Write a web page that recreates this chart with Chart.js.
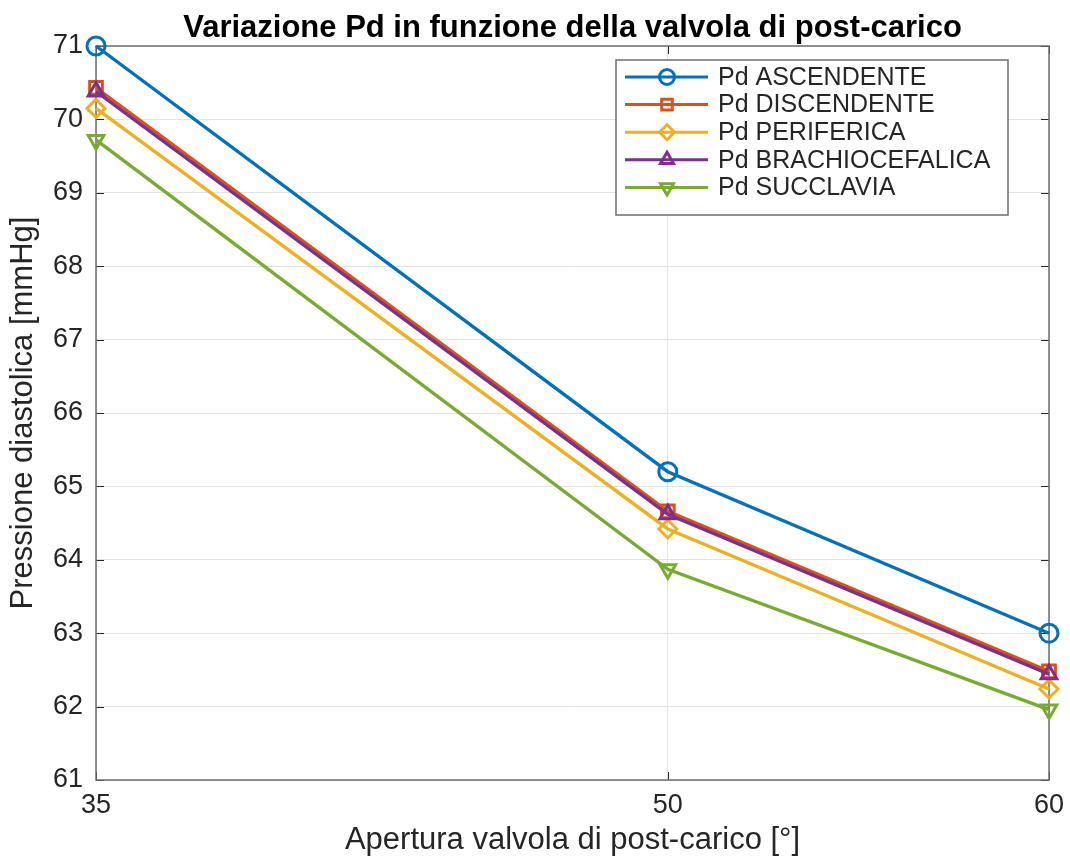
<!DOCTYPE html>
<html><head><meta charset="utf-8">
<script src="https://cdn.jsdelivr.net/npm/chart.js@4.4.1/dist/chart.umd.min.js"></script>
<style>html,body{margin:0;padding:0;background:#fff}</style>
</head><body>
<canvas id="c" width="1070" height="861"></canvas>
<script>
// Apertura valvola (°) e pressione diastolica (mmHg) per ciascun distretto
const apertura = [35, 50, 60];
const xTicks = [35, 50, 60];
const yTicks = [61, 62, 63, 64, 65, 66, 67, 68, 69, 70, 71];
const pdAscendente = [71.0, 65.2, 63.0];
const pdDiscendente = [70.43, 64.66, 62.48];
const pdPeriferica = [70.15, 64.42, 62.24];
const pdBrachiocefalica = [70.38, 64.62, 62.44];
const pdSucclavia = [69.72, 63.87, 61.96];

const seriesNames = ['Pd ASCENDENTE', 'Pd DISCENDENTE', 'Pd PERIFERICA', 'Pd BRACHIOCEFALICA', 'Pd SUCCLAVIA'];
const seriesValues = [pdAscendente, pdDiscendente, pdPeriferica, pdBrachiocefalica, pdSucclavia];
const seriesColors = ['#0072BD', '#D95319', '#EDB120', '#7E2F8E', '#77AC30'];
const seriesMarkers = ['circle', 'rect', 'rectRot', 'triangle', 'triangle'];
const seriesRotation = [0, 0, 0, 0, 180];

const chartTitle = 'Variazione Pd in funzione della valvola di post-carico';
const FONT = '"Liberation Sans", Arial, Helvetica, sans-serif';
const AXIS = '#262626';

const datasets = seriesNames.map((name, i) => ({
  label: name,
  data: apertura.map((x, j) => ({ x: x, y: seriesValues[i][j] })),
  borderColor: seriesColors[i],
  backgroundColor: 'rgba(0,0,0,0)',
  borderWidth: 3.4,
  pointStyle: seriesMarkers[i],
  pointRotation: seriesRotation[i],
  pointRadius: 9,
  pointBorderWidth: 3,
  pointBackgroundColor: 'rgba(0,0,0,0)',
  pointBorderColor: seriesColors[i],
  tension: 0,
  clip: false,
  order: seriesNames.length - 1 - i
}));

// Riquadro degli assi, tacche interne, titolo e legenda dentro l'area del grafico
const axesDecor = {
  id: 'axesDecor',
  beforeDatasetsDraw(chart) {
    const ctx = chart.ctx;
    const a = chart.chartArea;
    const xs = chart.scales.x, ys = chart.scales.y;
    ctx.save();
    ctx.strokeStyle = AXIS;
    ctx.lineWidth = 1;
    ctx.beginPath();
    ys.ticks.forEach(t => {
      const py = Math.round(ys.getPixelForValue(t.value)) + 0.5;
      ctx.moveTo(a.left, py); ctx.lineTo(a.left + 8, py);
      ctx.moveTo(a.right, py); ctx.lineTo(a.right - 8, py);
    });
    xs.ticks.forEach(t => {
      const px = Math.round(xs.getPixelForValue(t.value)) + 0.5;
      ctx.moveTo(px, a.bottom); ctx.lineTo(px, a.bottom - 8);
      ctx.moveTo(px, a.top); ctx.lineTo(px, a.top + 8);
    });
    ctx.stroke();
    ctx.strokeStyle = '#6e6e6e';
    ctx.lineWidth = 1.5;
    ctx.strokeRect(a.left, a.top, a.right - a.left, a.bottom - a.top);

    // titolo centrato sull'area degli assi
    ctx.fillStyle = '#000000';
    ctx.font = 'bold 31px ' + FONT;
    ctx.textAlign = 'center';
    ctx.textBaseline = 'alphabetic';
    ctx.fillText(chartTitle, (a.left + a.right) / 2, 37);
    ctx.restore();
  },
  afterDatasetsDraw(chart) {
    const ctx = chart.ctx;
    ctx.save();
    const bx = 616, by = 60, bw = 392, bh = 155;
    ctx.fillStyle = '#ffffff';
    ctx.fillRect(bx, by, bw, bh);
    ctx.strokeStyle = '#6e6e6e';
    ctx.lineWidth = 1.5;
    ctx.strokeRect(bx, by, bw, bh);
    ctx.font = '25px ' + FONT;
    ctx.textBaseline = 'middle';
    ctx.textAlign = 'left';
    chart.data.datasets.forEach((ds, i) => {
      const cy = by + 17 + i * 27.6;
      ctx.strokeStyle = ds.borderColor;
      ctx.lineWidth = 3;
      ctx.beginPath();
      ctx.moveTo(bx + 9, cy); ctx.lineTo(bx + 92, cy);
      ctx.stroke();
      ctx.fillStyle = 'rgba(0,0,0,0)';
      Chart.helpers.drawPoint(ctx, {
        pointStyle: ds.pointStyle, rotation: ds.pointRotation, radius: 7.5, borderWidth: 3
      }, bx + 51, cy);
      ctx.fillStyle = '#262626';
      ctx.fillText(ds.label, bx + 102, cy + 1);
    });
    ctx.restore();
  }
};

new Chart(document.getElementById('c'), {
  type: 'line',
  data: { datasets: datasets },
  plugins: [axesDecor],
  options: {
    responsive: false,
    animation: false,
    layout: { padding: { left: 0, right: 21, top: 46, bottom: 0 } },
    plugins: {
      legend: { display: false },
      tooltip: { enabled: false },
      title: { display: false }
    },
    scales: {
      x: {
        type: 'linear',
        min: 35, max: 60,
        afterBuildTicks: s => { s.ticks = xTicks.map(v => ({ value: v })); },
        afterFit: s => { s.height = 81; s.paddingRight = 0; s.paddingLeft = 0; },
        grid: { color: '#e3e3e3', lineWidth: 1, drawTicks: false },
        border: { display: false },
        ticks: { color: AXIS, font: { family: FONT, size: 27 }, padding: 9, maxRotation: 0 },
        title: { display: true, text: 'Apertura valvola di post-carico [°]', color: AXIS,
                 font: { family: FONT, size: 31 }, padding: { top: 0, bottom: 2 } }
      },
      y: {
        type: 'linear',
        min: 61, max: 71,
        afterBuildTicks: s => { s.ticks = yTicks.map(v => ({ value: v })); },
        afterFit: s => { s.width = 96; s.paddingTop = 0; s.paddingBottom = 0; },
        grid: { color: '#e3e3e3', lineWidth: 1, drawTicks: false },
        border: { display: false },
        ticks: { color: AXIS, font: { family: FONT, size: 27 }, padding: 13 },
        title: { display: true, text: 'Pressione diastolica [mmHg]', color: AXIS,
                 font: { family: FONT, size: 31 }, padding: { top: 5, bottom: 0 } }
      }
    }
  }
});
</script>
</body></html>
